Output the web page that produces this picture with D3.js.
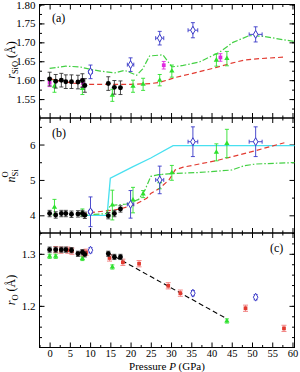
<!DOCTYPE html>
<html>
<head>
<meta charset="utf-8">
<script src="https://cdn.jsdelivr.net/npm/d3@7"></script>
<style>
  body { margin: 0; background: #fff; }
  svg { display: block; font-family: "Liberation Serif", "Times New Roman", serif; }
</style>
</head>
<body>
<svg id="chart" width="300" height="372"></svg>
<script>
// ---- data ----
const xTicks = [0, 5, 10, 15, 20, 25, 30, 35, 40, 45, 50, 55, 60];

// black filled circles
const blackP   = [0, 1.5, 2.9, 4.0, 5.4, 7.0, 8.1, 8.7, 14.5, 16.0, 17.5];
const blackA   = [1.603, 1.597, 1.600, 1.596, 1.596, 1.595, 1.599, 1.586, 1.591, 1.581, 1.580];
const blackB   = [4.05, 4.01, 4.05, 4.05, 4.03, 4.04, 4.05, 4.00, 3.99, 4.05, 4.18];
const blackC   = [1.308, 1.308, 1.308, 1.308, 1.307, 1.300, 1.303, 1.299, 1.300, 1.294, 1.294];

// green triangles
const greenP   = [1.2, 8.1, 15.5, 20.6, 23.1, 27.2, 30.2, 41.2, 43.8];
const greenA   = [1.584, 1.578, 1.560, 1.584, 1.589, 1.600, 1.624, 1.653, 1.657];
const greenAe  = [0.016, 0.016, 0.016, 0.016, 0.016, 0.015, 0.016, 0.016, 0.019];
const greenB   = [4.23, 4.08, 4.29, 4.43, 4.60, 4.95, 5.20, 5.78, 6.03];
const greenBe  = [0.22, 0.10, 0.42, 0.36, 0.10, 0.20, 0.21, 0.24, 0.40];
const greenCP  = [0, 1.5, 8.1, 15.5, 43.8];
const greenC   = [1.2953, 1.2953, 1.291, 1.2747, 1.171];

// magenta squares (panel a)
const magP     = [0, 8.2, 28.2, 42.2];
const magA     = [1.593, 1.593, 1.6395, 1.660];

// blue open diamonds
const blueP    = [10.1, 20.0, 27.2, 35.4, 50.9];
const bluePe   = [0.5, 0.8, 1.0, 1.2, 1.6];
const blueA    = [1.622, 1.641, 1.711, 1.732, 1.721];
const blueAe   = [0.018, 0.018, 0.018, 0.020, 0.020];
const blueB    = [4.10, 4.31, 5.00, 6.08, 6.08];
const blueBe   = [0.42, 0.39, 0.39, 0.42, 0.42];
const blueCP   = [10.1, 35.4, 50.9];
const blueC    = [1.307, 1.2244, 1.2167];

// red squares (panel c)
const redP     = [1.5, 2.8, 4.5, 5.5, 8.3, 9.0, 14.8, 18.1, 22.1, 29.3, 32.3, 48.4, 57.9];
const redC     = [1.308, 1.307, 1.307, 1.305, 1.302, 1.303, 1.292, 1.2837, 1.281, 1.2386, 1.2244, 1.1954, 1.1567];

// lines
const redLineA = [[0,1.604],[3,1.597],[6,1.592],[9,1.589],[15,1.589],[20,1.589],[25,1.591],[27,1.594],[29,1.600],[31,1.607],[35,1.617],[41,1.633],[45,1.645],[48,1.653],[52,1.657],[58,1.661]];
const greenLineA = [[0,1.631],[4,1.637],[7.5,1.635],[10,1.629],[12.5,1.624],[16,1.619],[18.5,1.626],[21.5,1.613],[23,1.630],[24.7,1.664],[28,1.667],[30.2,1.635],[33,1.639],[37,1.648],[42,1.674],[45.3,1.700],[49.4,1.718],[52.7,1.716],[60.5,1.702]];
const cyanLineB = [[8,4.0],[14.2,4.0],[15,5.05],[20.5,5.37],[25,5.62],[30.5,5.97],[60.5,5.97]];
const redLineB = [[8,4.05],[12,4.10],[16,4.15],[18,4.20],[21,4.30],[24,4.48],[25,4.62],[27,4.75],[29.5,5.0],[31,5.28],[33,5.36],[41,5.54],[49,5.77],[58,6.05]];
const greenLineB = [[8,4.0],[14,4.05],[15,4.28],[19,4.32],[22,4.45],[23.5,4.7],[25,5.1],[27,5.15],[30,5.18],[37,5.21],[45,5.28],[48,5.40],[51,5.45],[60.5,5.49]];
const blackLineC = [[14.4,1.302],[43.6,1.176]];

// ---- layout ----
const svg = d3.select("#chart");
const x0 = 39.5, x1 = 294.5;
const x = d3.scaleLinear().domain([-2.5, 60.5]).range([x0, x1]);

const panels = [
  { top: 4.5, bottom: 118, domain: [1.50, 1.80], major: d3.range(1.55, 1.801, 0.05), minor: d3.range(1.525, 1.80, 0.025), fmt: d3.format(".2f") },
  { top: 118, bottom: 233, domain: [3.5, 6.75], major: [4, 5, 6], minor: [4.5, 5.5, 6.5], fmt: d3.format("d") },
  { top: 233, bottom: 347.5, domain: [1.12, 1.34], major: [1.2, 1.3], minor: d3.range(1.14, 1.34, 0.02), fmt: d3.format(".1f") }
];
panels.forEach(p => { p.y = d3.scaleLinear().domain(p.domain).range([p.bottom, p.top]); });

const minorX = d3.range(-2.5, 60.5, 2.5).filter(v => v % 5 !== 0);

panels.forEach((p, i) => {
  const g = svg.append("g");
  const styleAxis = a => {
    a.select(".domain").remove();
    a.selectAll("line").attr("stroke", "#000").attr("stroke-width", 1);
    a.selectAll("text").attr("font-size", 11).attr("fill", "#000").attr("font-family", "Liberation Serif, serif");
  };
  // y axes
  g.append("g").attr("transform", `translate(${x0},0)`)
    .call(d3.axisLeft(p.y).tickValues(p.major).tickSize(-5).tickPadding(4).tickFormat(p.fmt)).call(styleAxis);
  g.append("g").attr("transform", `translate(${x0},0)`)
    .call(d3.axisLeft(p.y).tickValues(p.minor).tickSize(-2.5).tickFormat("")).call(styleAxis);
  g.append("g").attr("transform", `translate(${x1},0)`)
    .call(d3.axisRight(p.y).tickValues(p.major).tickSize(-5).tickFormat("")).call(styleAxis);
  g.append("g").attr("transform", `translate(${x1},0)`)
    .call(d3.axisRight(p.y).tickValues(p.minor).tickSize(-2.5).tickFormat("")).call(styleAxis);
  // x axes
  const bx = g.append("g").attr("transform", `translate(0,${p.bottom})`)
    .call(d3.axisBottom(x).tickValues(xTicks).tickSize(-5).tickPadding(2.5).tickFormat(i === 2 ? d3.format("d") : "")).call(styleAxis);
  bx.selectAll("text").attr("font-size", 10.5);
  g.append("g").attr("transform", `translate(0,${p.bottom})`)
    .call(d3.axisBottom(x).tickValues(minorX).tickSize(-2.5).tickFormat("")).call(styleAxis);
  g.append("g").attr("transform", `translate(0,${p.top})`)
    .call(d3.axisTop(x).tickValues(xTicks).tickSize(-5).tickFormat("")).call(styleAxis);
  g.append("g").attr("transform", `translate(0,${p.top})`)
    .call(d3.axisTop(x).tickValues(minorX).tickSize(-2.5).tickFormat("")).call(styleAxis);
  g.append("rect").attr("x", x0).attr("y", p.top).attr("width", x1 - x0).attr("height", p.bottom - p.top)
    .attr("fill", "none").attr("stroke", "#000").attr("stroke-width", 1);
});

const [pa, pb, pc] = panels;

// ---- drawing helpers ----
function line(p, pts, color, dash, w) {
  svg.append("path")
    .attr("d", d3.line().x(d => x(d[0])).y(d => p.y(d[1]))(pts))
    .attr("fill", "none").attr("stroke", color).attr("stroke-width", w || 1.2)
    .attr("stroke-dasharray", dash || null);
}

function errorBars(p, xs, ys, es, color, cap, xes) {
  const g = svg.append("g").attr("stroke", color).attr("stroke-width", 0.9);
  xs.forEach((xv, i) => {
    const e = Array.isArray(es) ? es[i] : es;
    const cx = x(xv), lo = p.y(ys[i] - e), hi = p.y(ys[i] + e);
    g.append("line").attr("x1", cx).attr("x2", cx).attr("y1", lo).attr("y2", hi);
    g.append("line").attr("x1", cx - cap).attr("x2", cx + cap).attr("y1", lo).attr("y2", lo);
    g.append("line").attr("x1", cx - cap).attr("x2", cx + cap).attr("y1", hi).attr("y2", hi);
    if (xes) {
      const cy = p.y(ys[i]), l = x(xv - xes[i]), r = x(xv + xes[i]);
      g.append("line").attr("x1", l).attr("x2", r).attr("y1", cy).attr("y2", cy);
      g.append("line").attr("x1", l).attr("x2", l).attr("y1", cy - cap).attr("y2", cy + cap);
      g.append("line").attr("x1", r).attr("x2", r).attr("y1", cy - cap).attr("y2", cy + cap);
    }
  });
}

function markers(p, xs, ys, type, size, fill, stroke) {
  svg.append("g").selectAll("path").data(xs).join("path")
    .attr("transform", (d, i) => `translate(${x(d)},${p.y(ys[i])})`)
    .attr("d", d3.symbol().type(type).size(size))
    .attr("fill", fill).attr("stroke", stroke || "none").attr("stroke-width", 1);
}

const cBlack = "#000", cGreen = "#2ee02e", cMag = "#e028e0", cBlue = "#3a3ac8",
      cRed = "#e23a30", cPink = "#f07a7a", cCyan = "#48e0f0", cGreenLine = "#44d044";

// ---- panel (a) ----
line(pa, redLineA, cRed, "5,3");
line(pa, greenLineA, cGreenLine, "6,2,1.5,2");
errorBars(pa, greenP, greenA, greenAe, cGreen, 2);
markers(pa, greenP, greenA, d3.symbolTriangle, 12, cGreen);
errorBars(pa, magP, magA, 0.010, cMag, 2);
markers(pa, magP, magA, d3.symbolSquare, 14, cMag);
errorBars(pa, blackP, blackA, 0.018, "#333", 2);
markers(pa, blackP, blackA, d3.symbolCircle, 19, cBlack);
errorBars(pa, blueP, blueA, blueAe, cBlue, 2, bluePe);
markers(pa, blueP, blueA, d3.symbolDiamond, 18, "#fff", cBlue);

// ---- panel (b) ----
line(pb, cyanLineB, cCyan, null, 1.3);
line(pb, redLineB, cRed, "5,3");
line(pb, greenLineB, cGreenLine, "6,2,1.5,2");
errorBars(pb, greenP, greenB, greenBe, cGreen, 2);
markers(pb, greenP, greenB, d3.symbolTriangle, 12, cGreen);
errorBars(pb, blackP, blackB, 0.09, "#333", 2);
markers(pb, blackP, blackB, d3.symbolCircle, 19, cBlack);
errorBars(pb, blueP, blueB, blueBe, cBlue, 2, bluePe);
markers(pb, blueP, blueB, d3.symbolDiamond, 18, "#fff", cBlue);

// ---- panel (c) ----
line(pc, blackLineC, "#000", "5,3", 1.1);
errorBars(pc, greenCP, greenC, 0.004, cGreen, 2);
markers(pc, greenCP, greenC, d3.symbolTriangle, 12, cGreen);
errorBars(pc, redP, redC, 0.006, cPink, 2.5);
markers(pc, redP, redC, d3.symbolSquare, 14, cRed);
errorBars(pc, blackP, blackC, 0.005, "#333", 2);
markers(pc, blackP, blackC, d3.symbolCircle, 19, cBlack);
errorBars(pc, blueCP, blueC, 0.005, cBlue, 2);
markers(pc, blueCP, blueC, d3.symbolDiamond, 18, "#fff", cBlue);

// ---- labels ----
const txt = (xx, yy, s, anchor) => svg.append("text").attr("x", xx).attr("y", yy)
  .attr("font-size", 12).attr("text-anchor", anchor || "start").text(s);
txt(52, 22, "(a)");
txt(52, 137, "(b)");
txt(270, 252, "(c)");

const xl = svg.append("text").attr("x", (x0 + x1) / 2).attr("y", 370.3)
  .attr("font-size", 11).attr("text-anchor", "middle");
xl.append("tspan").text("Pressure ");
xl.append("tspan").attr("font-style", "italic").text("P");
xl.append("tspan").text(" (GPa)");

function yLabel(cy, parts) {
  const t = svg.append("text").attr("transform", `translate(15,${cy}) rotate(-90)`)
    .attr("font-size", 12).attr("text-anchor", "middle");
  parts.forEach(pt => {
    const s = t.append("tspan").text(pt.t);
    if (pt.i) s.attr("font-style", "italic");
    if (pt.sub) s.attr("font-size", 8.5).attr("dy", 3);
    if (pt.sup) s.attr("font-size", 8.5).attr("dy", pt.sup);
    if (pt.dy) s.attr("dy", pt.dy);
    if (pt.dx) s.attr("dx", pt.dx);
  });
}
yLabel(60, [{ t: "r", i: true }, { t: "SiO", sub: true }, { t: " (Å)", dy: -3 }]);
yLabel(176, [{ t: "n", i: true }, { t: "Si", sub: true }, { t: "O", sup: -10, dx: -8 }]);
yLabel(290, [{ t: "r", i: true }, { t: "O", sub: true }, { t: " (Å)", dy: -3 }]);
</script>
</body>
</html>
